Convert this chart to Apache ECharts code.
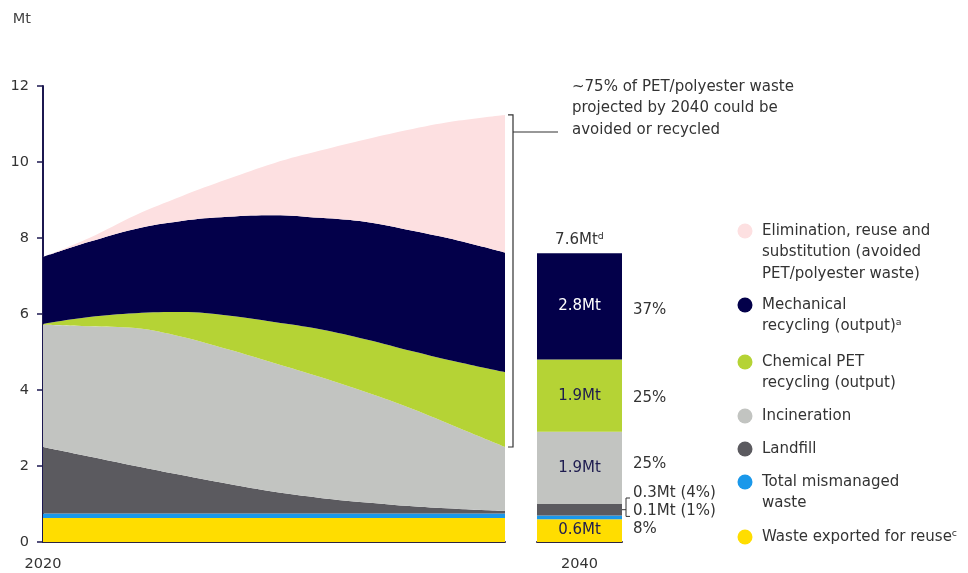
<!DOCTYPE html>
<html>
<head>
<meta charset="utf-8">
<script src="https://cdn.jsdelivr.net/npm/echarts@6/dist/echarts.min.js"></script>
<style>
  html, body { margin: 0; padding: 0; background: #ffffff; }
  #chart { width: 968px; height: 573px; }
</style>
</head>
<body>
<div id="chart"></div>
<script>
// PET/polyester waste pathways, 2020–2040 (Mt), stacked bottom to top
const years = ['2020', '2022', '2024', '2026', '2028', '2030', '2032', '2034', '2036', '2038', '2040'];
const exportReuse  = [0.63, 0.63, 0.63, 0.63, 0.63, 0.63, 0.63, 0.63, 0.63, 0.63, 0.63];
const mismanaged   = [0.12, 0.12, 0.12, 0.12, 0.12, 0.12, 0.12, 0.12, 0.12, 0.12, 0.12];
const landfill     = [1.75, 1.50, 1.25, 1.01, 0.78, 0.57, 0.41, 0.29, 0.19, 0.12, 0.07];
const incineration = [3.22, 3.43, 3.63, 3.64, 3.54, 3.39, 3.18, 2.90, 2.56, 2.13, 1.68];
const chemical     = [0.02, 0.24, 0.39, 0.65, 0.89, 1.08, 1.26, 1.39, 1.52, 1.73, 1.97];
const mechanical   = [1.76, 1.98, 2.22, 2.40, 2.60, 2.81, 2.93, 3.09, 3.17, 3.20, 3.15];
const elimination  = [0.00, 0.10, 0.36, 0.65, 0.99, 1.37, 1.77, 2.18, 2.68, 3.16, 3.62];

// 2040 scenario bar (Mt), same stack order: export, mismanaged, landfill, incineration, chemical, mechanical
const barCategory = ['2040'];
const bar2040 = [0.6, 0.1, 0.3, 1.9, 1.9, 2.8];

const yTicks = [0, 2, 4, 6, 8, 10, 12];

const seriesNames = [
  'Waste exported for reuse\u1D9C',
  'Total mismanaged\nwaste',
  'Landfill',
  'Incineration',
  'Chemical PET\nrecycling (output)',
  'Mechanical\nrecycling (output)\u1D43',
  'Elimination, reuse and\nsubstitution (avoided\nPET/polyester waste)'
];
const areaValues = [exportReuse, mismanaged, landfill, incineration, chemical, mechanical, elimination];
const colors = ['#ffdd00', '#1a98ea', '#5b5a5f', '#c2c4c1', '#b5d335', '#03004a', '#fde0e1'];

const FONT = '"DejaVu Sans", sans-serif';
const TEXT = '#333333';
const NAVY_TEXT = '#1e1c4f';

const chart = echarts.init(document.getElementById('chart'), null, { renderer: 'canvas' });

const barTotal = bar2040.reduce((a, b) => a + b, 0);
const pct = v => Math.round(v / barTotal * 100) + '%';

const series = [];
areaValues.forEach((vals, i) => {
  series.push({
    name: seriesNames[i],
    type: 'line',
    xAxisIndex: 0, yAxisIndex: 0,
    stack: 'waste',
    smooth: 0.4,
    symbol: 'none',
    lineStyle: { width: 0 },
    areaStyle: { color: colors[i], opacity: 1 },
    data: vals,
    z: 2
  });
});

// inside labels on the 2040 bar (Mt), none on the thin landfill / mismanaged slices
const insideLabel = [true, false, false, true, true, true];
bar2040.forEach((v, i) => {
  series.push({
    name: seriesNames[i] + ' 2040',
    type: 'bar',
    xAxisIndex: 1, yAxisIndex: 1,
    stack: 'bar',
    barWidth: '100%',
    barGap: '-100%',
    itemStyle: { color: colors[i] },
    label: {
      show: insideLabel[i],
      position: 'inside',
      fontFamily: FONT,
      fontSize: 15,
      color: i === 5 ? '#ffffff' : NAVY_TEXT,
      formatter: p => p.value.toFixed(1) + 'Mt'
    },
    data: [v]
  });
});

// total on top of the bar
series.push({
  name: 'total',
  type: 'bar',
  xAxisIndex: 1, yAxisIndex: 1,
  stack: 'bar',
  barWidth: '100%',
  barGap: '-100%',
  itemStyle: { color: 'transparent' },
  label: {
    show: true, position: 'top', distance: 6,
    fontFamily: FONT, fontSize: 15, color: TEXT,
    formatter: () => barTotal.toFixed(1) + 'Mt\u1D48'
  },
  data: [0]
});

// share labels to the right of the bar (invisible overlay stack)
const rightOffsets = [[0, -1], [0, -6], [0, -17], [0, -4], [0, 2], [0, 4]];
bar2040.forEach((v, i) => {
  const small = (i === 1 || i === 2);
  series.push({
    name: 'share ' + i,
    type: 'bar',
    xAxisIndex: 1, yAxisIndex: 1,
    stack: 'share',
    barWidth: '100%',
    barGap: '-100%',
    itemStyle: { color: 'transparent' },
    label: {
      show: true, position: 'right', distance: 11,
      offset: rightOffsets[i],
      fontFamily: FONT, fontSize: 15, color: TEXT,
      formatter: p => small ? (p.value.toFixed(1) + 'Mt (' + pct(p.value) + ')') : pct(p.value)
    },
    data: [v],
    z: 3
  });
});

const option = {
  animation: false,
  backgroundColor: '#ffffff',
  textStyle: { fontFamily: FONT },
  grid: [
    { left: 43, top: 86, width: 462, height: 456, outerBoundsMode: 'none', containLabel: false },
    { left: 537, top: 86, width: 85, height: 456, outerBoundsMode: 'none', containLabel: false }
  ],
  xAxis: [
    {
      gridIndex: 0, type: 'category', data: years, boundaryGap: false,
      axisLine: { show: true, lineStyle: { color: '#2c2540', width: 2 } },
      axisTick: { show: false },
      axisLabel: {
        fontFamily: FONT, fontSize: 14.5, color: TEXT, margin: 15,
        interval: idx => idx === 0
      },
      splitLine: { show: false }
    },
    {
      gridIndex: 1, type: 'category', data: barCategory,
      axisLine: { show: true, lineStyle: { color: '#2c2540', width: 2 } },
      axisTick: { show: false },
      axisLabel: { fontFamily: FONT, fontSize: 14.5, color: TEXT, margin: 15 },
      splitLine: { show: false }
    }
  ],
  yAxis: [
    {
      gridIndex: 0, type: 'value', min: yTicks[0], max: yTicks[yTicks.length - 1],
      interval: yTicks[1] - yTicks[0],
      name: 'Mt', nameLocation: 'end', nameGap: 59,
      nameTextStyle: { fontFamily: FONT, fontSize: 14.5, color: '#444444', align: 'right', padding: [0, 12, 0, 0] },
      axisLine: { show: true, lineStyle: { color: '#1c1850', width: 2 } },
      axisTick: { show: true, inside: false, length: 6, lineStyle: { color: '#1c1850', width: 1.5 } },
      axisLabel: { fontFamily: FONT, fontSize: 14.5, color: TEXT, margin: 14 },
      splitLine: { show: false }
    },
    {
      gridIndex: 1, type: 'value', min: 0, max: 12, interval: 2, show: false
    }
  ],
  series: series
};

chart.setOption(option);

// annotations positioned from the axes
const last = years.length - 1;
const p2040Top = chart.convertToPixel({ xAxisIndex: 0, yAxisIndex: 0 }, [last,
  areaValues.reduce((s, a) => s + a[last], 0)]);
const p2040Bot = chart.convertToPixel({ xAxisIndex: 0, yAxisIndex: 0 }, [last,
  areaValues.slice(0, 4).reduce((s, a) => s + a[last], 0)]);
const bx = p2040Top[0] + 8;
const bTop = p2040Top[1];
const bBot = p2040Bot[1];

const barCenter = chart.convertToPixel({ xAxisIndex: 1, yAxisIndex: 1 }, [0, 0]);
const barRight = barCenter[0] + 42.5;
const py = v => chart.convertToPixel({ xAxisIndex: 1, yAxisIndex: 1 }, [0, v])[1];
const cumLandfillTop = bar2040[0] + bar2040[1] + bar2040[2];
const cumMisTop = bar2040[0] + bar2040[1];
const sTop = py(cumLandfillTop) - 6;
const sBot = py(cumMisTop) + 1;
const sMid = py((cumLandfillTop + cumMisTop) / 2);
const sx = barRight + 4;

// legend: circles and wrapped labels, top of the stack first
const legendRows = [6, 5, 4, 3, 2, 1, 0];
const legendY = [231, 305, 362, 416, 449, 482, 537];
const legendGraphics = [];
legendRows.forEach((si, k) => {
  legendGraphics.push({
    type: 'circle', shape: { cx: 745, cy: legendY[k], r: 7.5 },
    style: { fill: colors[si] }
  });
  legendGraphics.push({
    type: 'text', x: 762, y: legendY[k] - 11,
    style: {
      text: seriesNames[si], fontFamily: FONT, fontSize: 15, lineHeight: 21.5,
      fill: TEXT, textVerticalAlign: 'top', verticalAlign: 'top'
    }
  });
});

chart.setOption({
  graphic: [
    // bracket spanning avoided + recycled share in 2040
    {
      type: 'polyline',
      shape: { points: [[bx - 5, bTop], [bx, bTop], [bx, bBot], [bx - 5, bBot]] },
      style: { stroke: '#333333', lineWidth: 1.2, fill: null }
    },
    {
      type: 'line',
      shape: { x1: bx, y1: 132, x2: 558, y2: 132 },
      style: { stroke: '#333333', lineWidth: 1.2 }
    },
    {
      type: 'text', x: 572, y: 76,
      style: {
        text: '~75% of PET/polyester waste\nprojected by 2040 could be\navoided or recycled',
        fontFamily: FONT, fontSize: 15, lineHeight: 21.5, fill: TEXT,
        verticalAlign: 'top', textVerticalAlign: 'top'
      }
    },
    // small bracket linking the landfill / mismanaged labels
    {
      type: 'polyline',
      shape: { points: [[sx + 4, sTop], [sx, sTop], [sx, sBot], [sx + 4, sBot]] },
      style: { stroke: '#333333', lineWidth: 1, fill: null }
    },
    {
      type: 'line',
      shape: { x1: barRight, y1: sMid, x2: sx, y2: sMid },
      style: { stroke: '#333333', lineWidth: 1 }
    }
  ].concat(legendGraphics)
});
</script>
</body>
</html>
